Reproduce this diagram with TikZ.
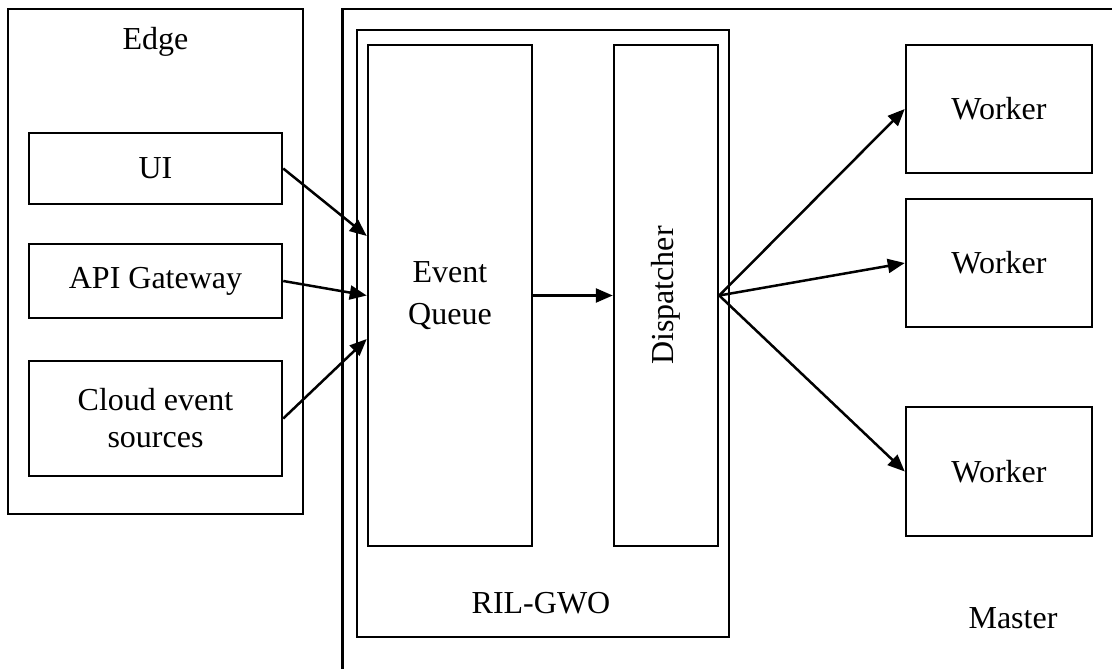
\documentclass[tikz,border=0pt]{standalone}
\usepackage{fontspec}
\setmainfont{Liberation Serif}
\usetikzlibrary{arrows.meta}
\tikzset{
  box/.style={draw, line width=2.5pt, rectangle, inner sep=0pt, align=center,
              font=\fontsize{32}{37}\selectfont},
  lbl/.style={inner sep=0pt, font=\fontsize{32}{37}\selectfont},
  flow/.style={line width=2.5pt, -{Triangle[length=17pt,width=14pt]}}
}
\begin{document}
\begin{tikzpicture}[x=1pt, y=-1pt]
  \path[use as bounding box, fill=white] (0,0) rectangle (1112,669);

  % Master container, running past the right and bottom edges
  \begin{scope}
    \clip (0,0) rectangle (1112,669);
    \node[box, minimum width=800pt, minimum height=700pt, anchor=north west] (master) at (341,8) {};
  \end{scope}
  \node[lbl] (masterlbl) at (1013,618) {Master};

  % Edge tier
  \node[box, minimum width=295pt, minimum height=505pt] (edge) at (155.5,261.5) {};
  \node[lbl] (edgelbl) at (155.5,42) {Edge};
  \node[box, minimum width=253pt, minimum height=71pt] (ui) at (155.5,168.5) {UI};
  \node[box, minimum width=253pt, minimum height=74pt] (api) at (155.5,281) {API Gateway};
  \node[box, minimum width=253pt, minimum height=115pt] (cloud) at (155.5,418.5) {Cloud event\\sources};

  % RIL-GWO scheduler
  \node[box, minimum width=372pt, minimum height=607pt] (ril) at (543,333.5) {};
  \node[lbl] (rillbl) at (541,603) {RIL-GWO};
  \node[box, minimum width=164pt, minimum height=501pt,
        font=\fontsize{32}{42}\selectfont] (eq) at (450,295.5) {Event\\Queue};
  \node[box, minimum width=104pt, minimum height=501pt] (disp) at (666,295.5) {};
  \node[lbl, rotate=90] (displbl) at (666,295.5) {Dispatcher};

  % Workers
  \node[box, minimum width=186pt, minimum height=128pt] (w1) at (999,109) {Worker};
  \node[box, minimum width=186pt, minimum height=128pt] (w2) at (999,263) {Worker};
  \node[box, minimum width=186pt, minimum height=129pt] (w3) at (999,471.5) {Worker};

  % Event flow
  \draw[flow] (ui.east) -- ([yshift=59.5pt]eq.west);
  \draw[flow] (api.east) -- (eq.west);
  \draw[flow] (cloud.east) -- ([yshift=-43.5pt]eq.west);
  \draw[flow] (eq.east) -- (disp.west);
  \draw[flow] (disp.east) -- (w1.west);
  \draw[flow] (disp.east) -- (w2.west);
  \draw[flow] (disp.east) -- (w3.west);
\end{tikzpicture}
\end{document}
